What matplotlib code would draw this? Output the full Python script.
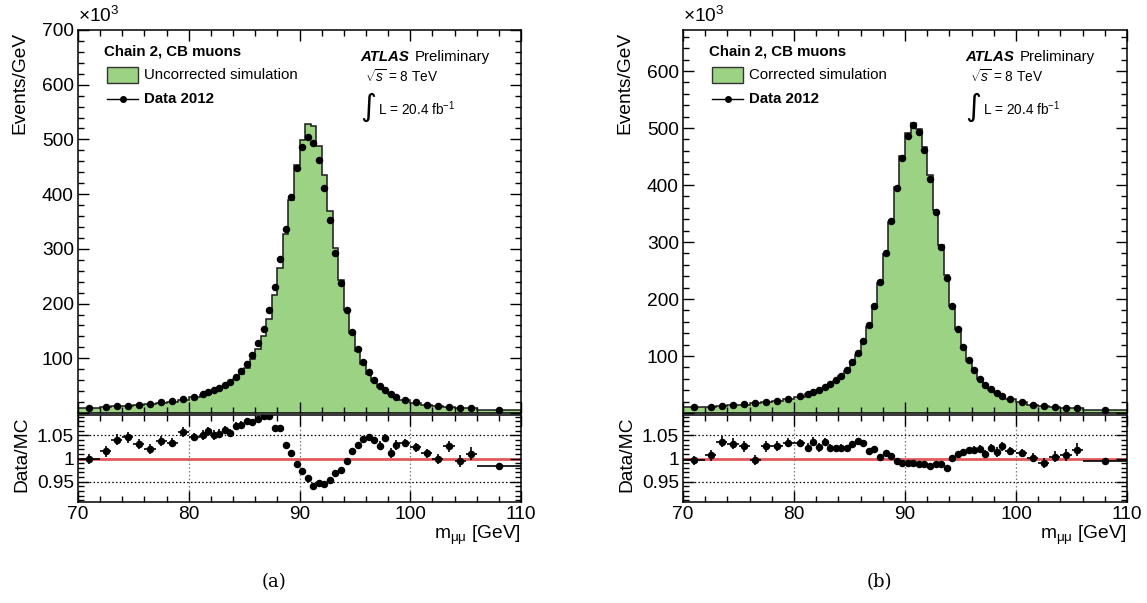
import numpy as np
import matplotlib
matplotlib.use('Agg')
import matplotlib.pyplot as plt
from matplotlib.ticker import MultipleLocator, FixedLocator, FuncFormatter
from matplotlib.patches import Rectangle
from matplotlib.lines import Line2D

plt.rcParams['font.family'] = ['Liberation Sans', 'DejaVu Sans']
plt.rcParams['mathtext.fontset'] = 'custom'
plt.rcParams['mathtext.rm'] = 'Liberation Sans'
plt.rcParams['mathtext.it'] = 'Liberation Sans:italic'
plt.rcParams['mathtext.bf'] = 'Liberation Sans:bold'

# ---------------- data ----------------
bin_edges = [70, 72, 73, 74, 75, 76, 77, 78, 79, 80, 81,
             81.5, 82, 82.5, 83, 83.5, 84, 84.5, 85, 85.5, 86,
             86.5, 87, 87.5, 88, 88.5, 89, 89.5, 90, 90.5, 91,
             91.5, 92, 92.5, 93, 93.5, 94, 94.5, 95, 95.5, 96,
             96.5, 97, 97.5, 98, 98.5, 99, 100, 101, 102, 103,
             104, 105, 106, 110]

data_2012 = [10.0, 11.3, 12.5, 13.7, 15.3, 17.0, 19.2, 21.7, 25.3, 29.7,
             33.9, 37.5, 41.2, 46.0, 51.0, 57.5, 65.6, 75.9, 89.0, 105.8,
             127.2, 153.8, 188.6, 229.4, 281.5, 337.2, 394.0, 447.5, 486.5, 504.7,
             493.0, 462.0, 410.5, 352.7, 292.0, 237.6, 188.1, 148.2, 116.6, 93.2,
             75.3, 60.2, 48.8, 41.6, 34.8, 30.0, 24.4, 19.4, 14.9, 12.5,
             10.4, 9.2, 8.6, 5.4]

mc_uncorrected = [10.0, 11.1, 12.0, 13.1, 14.8, 16.7, 18.5, 21.0, 23.9, 28.4,
                  32.3, 35.4, 39.2, 43.6, 48.1, 54.5, 61.3, 70.7, 82.3, 98.1,
                  117.1, 140.8, 172.7, 215.4, 264.3, 327.4, 389.3, 452.5, 499.5, 527.4,
                  523.9, 488.4, 434.9, 369.7, 301.3, 243.4, 189.0, 145.9, 113.2, 89.4,
                  72.0, 57.9, 47.5, 39.8, 34.4, 29.2, 23.6, 18.9, 14.7, 12.5,
                  10.1, 9.3, 8.5, 5.5]

mc_corrected = [10.0, 11.2, 12.1, 13.3, 14.9, 17.1, 18.7, 21.1, 24.5, 28.7,
                33.1, 36.2, 40.2, 44.4, 49.9, 56.3, 64.1, 74.3, 86.3, 101.9,
                123.1, 151.4, 184.7, 228.5, 278.4, 335.2, 396.0, 451.6, 491.4, 509.3,
                498.5, 467.1, 417.6, 356.6, 295.2, 242.4, 187.9, 146.7, 115.0, 91.5,
                73.9, 59.0, 48.3, 40.7, 34.3, 29.2, 24.0, 19.2, 14.9, 12.6,
                10.4, 9.1, 8.4, 5.4]

ratio_uncorrected = [0.999, 1.016, 1.041, 1.046, 1.031, 1.021, 1.038, 1.034, 1.057, 1.047,
                     1.051, 1.059, 1.051, 1.054, 1.061, 1.055, 1.071, 1.073, 1.081, 1.078,
                     1.086, 1.092, 1.092, 1.065, 1.065, 1.030, 1.012, 0.989, 0.974, 0.957,
                     0.941, 0.946, 0.944, 0.954, 0.969, 0.976, 0.995, 1.016, 1.030, 1.043,
                     1.046, 1.039, 1.028, 1.045, 1.012, 1.029, 1.034, 1.024, 1.011, 0.999,
                     1.026, 0.994, 1.010, 0.984]

ratio_corrected = [0.996, 1.007, 1.036, 1.032, 1.026, 0.997, 1.026, 1.027, 1.034, 1.034,
                   1.023, 1.036, 1.024, 1.036, 1.023, 1.022, 1.023, 1.022, 1.031, 1.038,
                   1.033, 1.016, 1.021, 1.004, 1.011, 1.006, 0.995, 0.991, 0.990, 0.991,
                   0.989, 0.989, 0.983, 0.989, 0.989, 0.980, 1.001, 1.010, 1.014, 1.019,
                   1.019, 1.021, 1.010, 1.022, 1.014, 1.026, 1.016, 1.012, 1.002, 0.991,
                   1.004, 1.007, 1.019, 0.994]

ratio_err = [0.010, 0.012, 0.012, 0.012, 0.011, 0.011, 0.011, 0.010, 0.010, 0.009,
             0.010, 0.010, 0.010, 0.009, 0.009, 0.008, 0.008, 0.007, 0.006, 0.006,
             0.005, 0.004, 0.004, 0.003, 0.003, 0.003, 0.003, 0.003, 0.003, 0.003,
             0.003, 0.003, 0.003, 0.003, 0.003, 0.003, 0.003, 0.004, 0.005, 0.006,
             0.007, 0.008, 0.009, 0.009, 0.010, 0.010, 0.008, 0.009, 0.010, 0.011,
             0.012, 0.013, 0.014, 0.007]

panel_labels = ['(a)', '(b)']
sim_labels = ['Uncorrected simulation', 'Corrected simulation']
ymax_main = [700, 672]

# ---------------- layout ----------------
W, H = 1147, 603
fig = plt.figure(figsize=(W / 100, H / 100), dpi=100)
renderer = fig.canvas.get_renderer()


def fx(x):
    return x / W


def fy(y):
    return 1 - y / H


def add_ax(x0, x1, ytop, ybot):
    return fig.add_axes([fx(x0), fy(ybot), (x1 - x0) / W, (ybot - ytop) / H])


GREEN = '#9cd283'
RED = '#e2595c'
FS = 13.8
FS_LEG = 10.8
FS_SMALL = 9.8

edges = np.array(bin_edges)
centers = 0.5 * (edges[:-1] + edges[1:])
halfw = 0.5 * (edges[1:] - edges[:-1])

panels = [
    dict(x0=78, x1=521, mc=mc_uncorrected, ratio=ratio_uncorrected),
    dict(x0=683, x1=1127, mc=mc_corrected, ratio=ratio_corrected),
]

for i, p in enumerate(panels):
    x0, x1 = p['x0'], p['x1']
    axm = add_ax(x0, x1, 30, 413)
    axr = add_ax(x0, x1, 415, 502)

    # main histogram
    axm.stairs(p['mc'], edges, fill=True, color=GREEN, zorder=1)
    axm.stairs(p['mc'], edges, color='#1a1a1a', lw=1.1, zorder=2)
    axm.plot(centers, data_2012, 'o', color='black', ms=4.4, zorder=3)
    axm.set_xlim(70, 110)
    axm.set_ylim(0, ymax_main[i])
    axm.xaxis.set_major_locator(MultipleLocator(10))
    axm.xaxis.set_minor_locator(MultipleLocator(2))
    axm.yaxis.set_major_locator(MultipleLocator(100))
    axm.yaxis.set_minor_locator(MultipleLocator(20))
    axm.yaxis.set_major_formatter(FuncFormatter(lambda v, _: '' if v == 0 else '%d' % v))
    axm.tick_params(axis='x', labelbottom=False)

    # ratio
    axr.axhline(1.0, color=RED, lw=2.0, zorder=1)
    for yy in (0.95, 1.05):
        axr.axhline(yy, color='black', lw=0.9, ls=(0, (1.2, 1.8)), zorder=1)
    for xx in (80, 90, 100):
        axr.axvline(xx, color='#777777', lw=0.9, ls=(0, (1.2, 1.8)), zorder=1)
    axr.errorbar(centers, p['ratio'], yerr=ratio_err, xerr=halfw, fmt='o',
                 color='black', ms=4.4, elinewidth=1.2, capsize=0, zorder=3)
    axr.set_xlim(70, 110)
    axr.set_ylim(0.906, 1.094)
    axr.xaxis.set_major_locator(MultipleLocator(10))
    axr.xaxis.set_minor_locator(MultipleLocator(2))
    axr.yaxis.set_major_locator(FixedLocator([0.95, 1.0, 1.05]))
    axr.yaxis.set_major_formatter(FuncFormatter(
        lambda v, _: {0.95: '0.95', 1.0: '1', 1.05: '1.05'}.get(round(v, 2), '')))
    axr.yaxis.set_minor_locator(MultipleLocator(0.01))

    for ax in (axm, axr):
        ax.tick_params(which='both', direction='in', top=True, right=True,
                       width=1.0, labelsize=FS, pad=3)
        ax.tick_params(which='major', length=8)
        ax.tick_params(which='minor', length=4)
        for s in ax.spines.values():
            s.set_linewidth(1.1)
            s.set_zorder(5)

    # axis titles
    fig.text(fx(x0 - 58), fy(32), 'Events/GeV', rotation=90, ha='center', va='top', fontsize=FS)
    fig.text(fx(x0 - 56), fy(416), 'Data/MC', rotation=90, ha='center', va='top', fontsize=FS)
    fig.text(fx(x1), fy(535), r'm$_{\mathrm{μμ}}$ [GeV]', ha='right', va='center', fontsize=FS)
    fig.text(fx(x0), fy(26), r'$\times$10$^{3}$', ha='left', va='bottom', fontsize=FS)

    # legend
    fig.text(fx(x0 + 26), fy(51), 'Chain 2, CB muons', fontweight='bold',
             ha='left', va='center', fontsize=FS_LEG)
    fig.patches.append(Rectangle((fx(x0 + 29), fy(83)), 30.5 / W, 16 / H,
                                 transform=fig.transFigure, facecolor=GREEN,
                                 edgecolor='#333333', lw=1.0))
    fig.text(fx(x0 + 66), fy(75), sim_labels[i], ha='left', va='center', fontsize=FS_LEG)
    fig.lines.append(Line2D([fx(x0 + 29), fx(x0 + 59.5)], [fy(99), fy(99)],
                            transform=fig.transFigure, color='black', lw=1.0))
    fig.lines.append(Line2D([fx(x0 + 44.5)], [fy(99)], transform=fig.transFigure,
                            marker='o', color='black', ms=4.0))
    fig.text(fx(x0 + 66), fy(99), 'Data 2012', fontweight='bold', ha='left',
             va='center', fontsize=FS_LEG)

    # ATLAS label
    t = fig.text(fx(x0 + 282), fy(57), 'ATLAS', fontweight='bold', fontstyle='italic',
                 ha='left', va='center', fontsize=FS_LEG)
    bb = t.get_window_extent(renderer=renderer)
    fig.text(bb.x1 / W + 6 / W, fy(57), 'Preliminary', ha='left', va='center',
             fontsize=FS_LEG)
    fig.text(fx(x0 + 287), fy(77), r'$\sqrt{s}$ = 8 TeV', ha='left', va='center',
             fontsize=FS_SMALL)
    fig.text(fx(x0 + 290), fy(107), '∫', ha='center', va='center', fontsize=22,
             family=['DejaVu Sans'])
    fig.text(fx(x0 + 300), fy(109), r'L = 20.4 fb$^{-1}$', ha='left', va='center',
             fontsize=FS_SMALL)

    # sub-figure label
    fig.text(fx(x0 + 196), fy(582), panel_labels[i], ha='center', va='center',
             fontsize=13, family=['DejaVu Serif'])

fig.savefig('out.png', dpi=100)
